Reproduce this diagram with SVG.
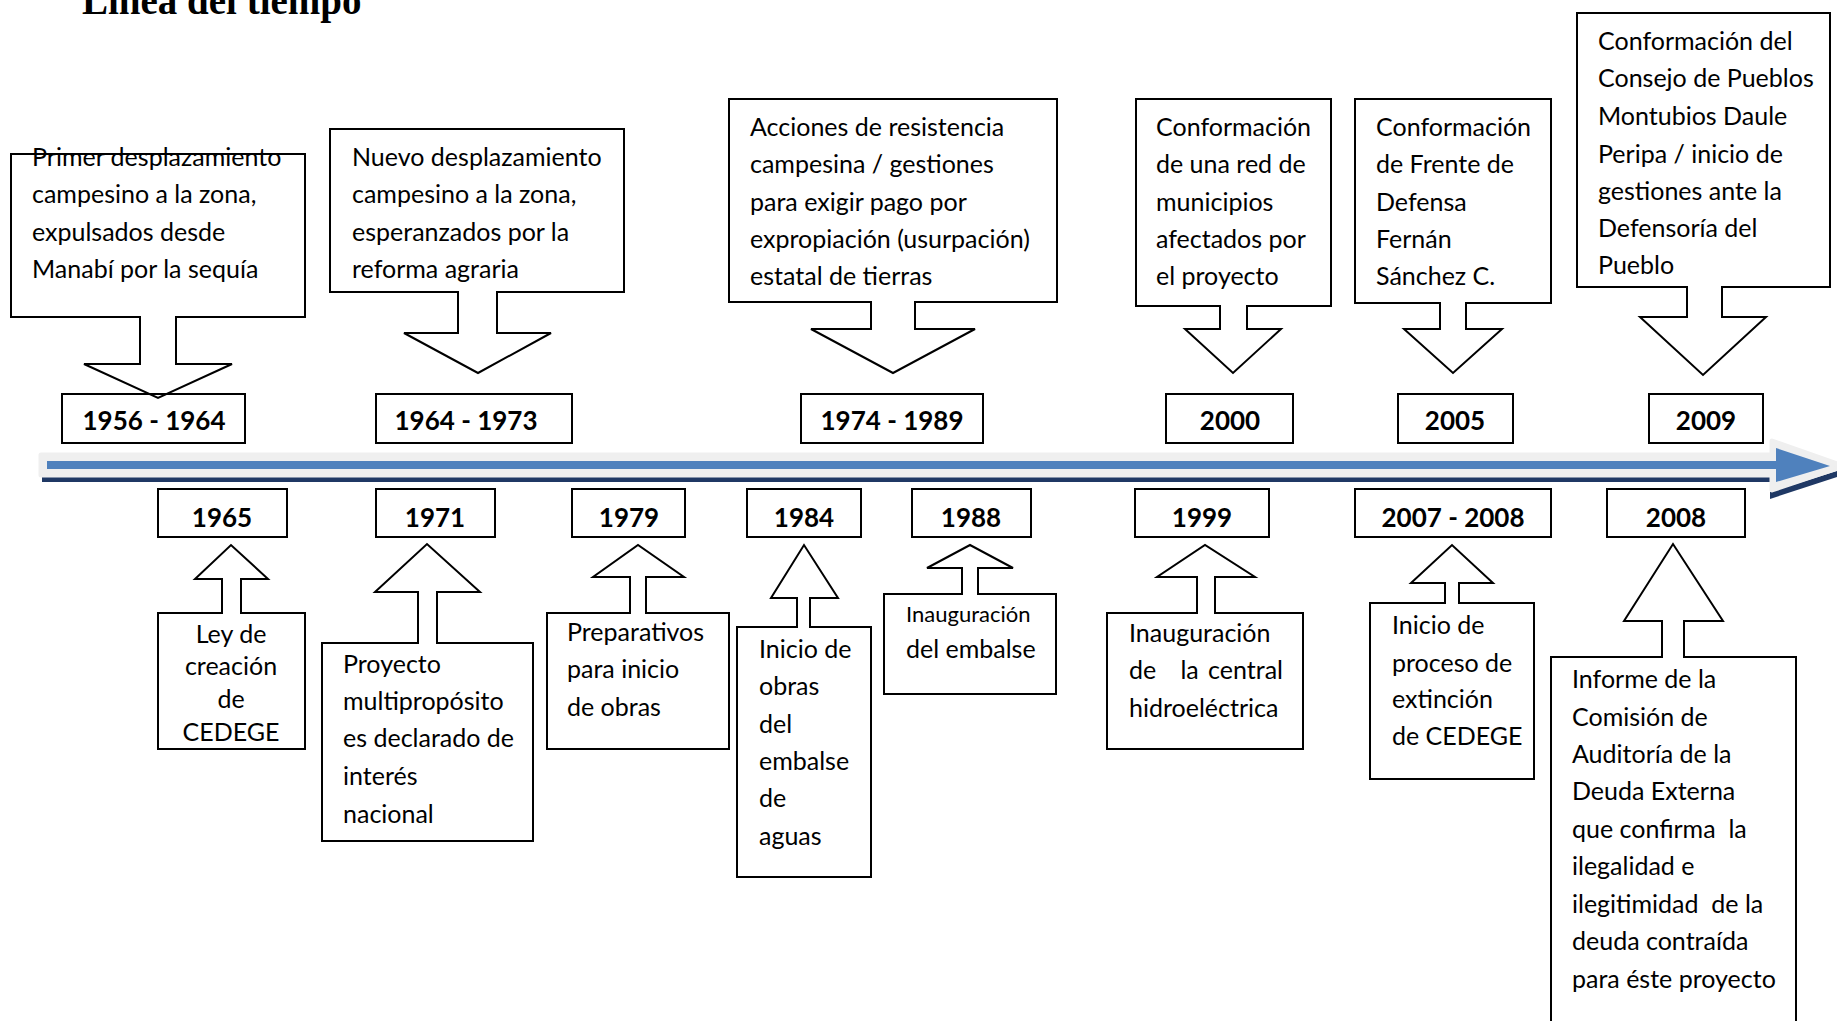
<svg xmlns="http://www.w3.org/2000/svg" width="1837" height="1021" viewBox="0 0 1837 1021">
<style>
.co{fill:#fff;stroke:#000;stroke-width:2;stroke-linejoin:miter}
.yb{fill:none;stroke:#000;stroke-width:2}
.t{font-family:Lato,"Liberation Sans",sans-serif;font-size:25px;fill:#000}
.s{font-size:22px}
.y{font-family:Lato,"Liberation Sans",sans-serif;font-size:26px;font-weight:bold;text-anchor:middle;fill:#000}
.c{text-anchor:middle}
.pre{white-space:pre}
</style>
<rect width="1837" height="1021" fill="#fff"/>
<text x="82" y="14" font-family="'Liberation Serif',serif" font-weight="bold" font-size="39">Línea del tiempo</text>

<g id="timeline">
<rect x="42" y="477" width="1734" height="5" fill="#1F3864"/>
<polygon points="1770,492 1837,471 1837,477 1770,499" fill="#1F3864"/>
<path d="M41,455 H1772 V441 L1843,466 L1772,490 V475 H41 Z" fill="#EFEFEF" stroke="#EFEFEF" stroke-width="5" stroke-linejoin="round"/>
<path d="M47,461 H1776 V448 L1830,466 L1776,482 V469 H47 Z" fill="#4F81BD"/>
</g>

<g id="connectors"></g>

<g id="n1956">
<path class="co" d="M11,154 H305 V317 H176 V364 H232 L158,398 L84,364 H140 V317 H11 Z"/>
<text class="t" x="32" y="166">Primer desplazamiento</text>
<text class="t" x="32" y="203">campesino a la zona,</text>
<text class="t" x="32" y="241">expulsados desde</text>
<text class="t" x="32" y="278">Manabí por la sequía</text>
<rect class="yb" x="62" y="394" width="183" height="49"/>
<text class="y" x="154" y="430">1956 - 1964</text>
</g>

<g id="n1964">
<path class="co" d="M330,129 H624 V292 H497 V333 H551 L478,373 L404,333 H458 V292 H330 Z"/>
<text class="t" x="352" y="166">Nuevo desplazamiento</text>
<text class="t" x="352" y="203">campesino a la zona,</text>
<text class="t" x="352" y="241">esperanzados por la</text>
<text class="t" x="352" y="278">reforma agraria</text>
<rect class="yb" x="376" y="394" width="196" height="49"/>
<text class="y" x="466" y="430">1964 - 1973</text>
</g>

<g id="n1974">
<path class="co" d="M729,99 H1057 V302 H915 V329 H975 L893,373 L811,329 H871 V302 H729 Z"/>
<text class="t" x="750" y="136">Acciones de resistencia</text>
<text class="t" x="750" y="173">campesina / gestiones</text>
<text class="t" x="750" y="211">para exigir pago por</text>
<text class="t" x="750" y="248">expropiación (usurpación)</text>
<text class="t" x="750" y="285">estatal de tierras</text>
<rect class="yb" x="801" y="394" width="182" height="49"/>
<text class="y" x="892" y="430">1974 - 1989</text>
</g>

<g id="n2000">
<path class="co" d="M1136,99 H1331 V306 H1247 V329 H1281 L1233,373 L1185,329 H1220 V306 H1136 Z"/>
<text class="t" x="1156" y="136">Conformación</text>
<text class="t" x="1156" y="173">de una red de</text>
<text class="t" x="1156" y="211">municipios</text>
<text class="t" x="1156" y="248">afectados por</text>
<text class="t" x="1156" y="285">el proyecto</text>
<rect class="yb" x="1166" y="394" width="127" height="49"/>
<text class="y" x="1230" y="430">2000</text>
</g>

<g id="n2005">
<path class="co" d="M1355,99 H1551 V303 H1466 V329 H1502 L1453,373 L1404,329 H1440 V303 H1355 Z"/>
<text class="t" x="1376" y="136">Conformación</text>
<text class="t" x="1376" y="173">de Frente de</text>
<text class="t" x="1376" y="211">Defensa</text>
<text class="t" x="1376" y="248">Fernán</text>
<text class="t" x="1376" y="285">Sánchez C.</text>
<rect class="yb" x="1398" y="394" width="115" height="49"/>
<text class="y" x="1455" y="430">2005</text>
</g>

<g id="n2009">
<path class="co" d="M1577,13 H1830 V287 H1722 V317 H1766 L1703,375 L1640,317 H1687 V287 H1577 Z"/>
<text class="t" x="1598" y="50">Conformación del</text>
<text class="t" x="1598" y="87">Consejo de Pueblos</text>
<text class="t" x="1598" y="125">Montubios Daule</text>
<text class="t" x="1598" y="163">Peripa / inicio de</text>
<text class="t" x="1598" y="200">gestiones ante la</text>
<text class="t" x="1598" y="237">Defensoría del</text>
<text class="t" x="1598" y="274">Pueblo</text>
<rect class="yb" x="1649" y="394" width="114" height="49"/>
<text class="y" x="1706" y="430">2009</text>
</g>

<g id="n1965">
<path class="co" d="M158,613 H222 V579 H195 L231,545 L268,579 H241 V613 H305 V749 H158 Z"/>
<text class="t c" x="231" y="643">Ley de</text>
<text class="t c" x="231" y="675">creación</text>
<text class="t c" x="231" y="708">de</text>
<text class="t c" x="231" y="741">CEDEGE</text>
<rect class="yb" x="158" y="489" width="129" height="48"/>
<text class="y" x="222" y="527">1965</text>
</g>

<g id="n1971">
<path class="co" d="M322,643 H418 V592 H375 L427,544 L480,592 H437 V643 H533 V841 H322 Z"/>
<text class="t" x="343" y="673">Proyecto</text>
<text class="t" x="343" y="710">multipropósito</text>
<text class="t" x="343" y="747">es declarado de</text>
<text class="t" x="343" y="785">interés</text>
<text class="t" x="343" y="823">nacional</text>
<rect class="yb" x="376" y="489" width="119" height="48"/>
<text class="y" x="435" y="527">1971</text>
</g>

<g id="n1979">
<path class="co" d="M547,613 H630 V577 H593 L638,545 L684,577 H646 V613 H729 V749 H547 Z"/>
<text class="t" x="567" y="641">Preparativos</text>
<text class="t" x="567" y="678">para inicio</text>
<text class="t" x="567" y="716">de obras</text>
<rect class="yb" x="572" y="489" width="113" height="48"/>
<text class="y" x="629" y="527">1979</text>
</g>

<g id="n1984">
<path class="co" d="M737,627 H797 V598 H771 L804,545 L838,598 H810 V627 H871 V877 H737 Z"/>
<text class="t" x="759" y="658">Inicio de</text>
<text class="t" x="759" y="695">obras</text>
<text class="t" x="759" y="733">del</text>
<text class="t" x="759" y="770">embalse</text>
<text class="t" x="759" y="807">de</text>
<text class="t" x="759" y="845">aguas</text>
<rect class="yb" x="747" y="489" width="114" height="48"/>
<text class="y" x="804" y="527">1984</text>
</g>

<g id="n1988">
<path class="co" d="M884,594 H962 V568 H927 L970,545 L1013,568 H978 V594 H1056 V694 H884 Z"/>
<text class="t s" x="906" y="622">Inauguración</text>
<text class="t" x="906" y="658">del embalse</text>
<rect class="yb" x="912" y="489" width="119" height="48"/>
<text class="y" x="971" y="527">1988</text>
</g>

<g id="n1999">
<path class="co" d="M1107,613 H1197 V577 H1157 L1205,545 L1255,577 H1215 V613 H1303 V749 H1107 Z"/>
<text class="t" x="1129" y="642">Inauguración</text>
<text class="t" x="1129" y="679">de<tspan x="1174"> la</tspan><tspan x="1283" text-anchor="end"> central</tspan></text>
<text class="t" x="1129" y="717">hidroeléctrica</text>
<rect class="yb" x="1135" y="489" width="134" height="48"/>
<text class="y" x="1202" y="527">1999</text>
</g>

<g id="n2007">
<path class="co" d="M1370,603 H1445 V583 H1411 L1452,545 L1493,583 H1459 V603 H1534 V779 H1370 Z"/>
<text class="t" x="1392" y="634">Inicio de</text>
<text class="t" x="1392" y="672">proceso de</text>
<text class="t" x="1392" y="708">extinción</text>
<text class="t" x="1392" y="745">de CEDEGE</text>
<rect class="yb" x="1355" y="489" width="196" height="48"/>
<text class="y" x="1453" y="527">2007 - 2008</text>
</g>

<g id="n2008">
<path class="co" d="M1551,657 H1662 V621 H1624 L1673,544 L1723,621 H1684 V657 H1796 V1030 H1551 Z"/>
<text class="t" x="1572" y="688">Informe de la</text>
<text class="t" x="1572" y="726">Comisión de</text>
<text class="t" x="1572" y="763">Auditoría de la</text>
<text class="t" x="1572" y="800">Deuda Externa</text>
<text class="t pre" x="1572" y="838">que confirma  la</text>
<text class="t" x="1572" y="875">ilegalidad e</text>
<text class="t pre" x="1572" y="913">ilegitimidad  de la</text>
<text class="t" x="1572" y="950">deuda contraída</text>
<text class="t" x="1572" y="988">para éste proyecto</text>
<rect class="yb" x="1607" y="489" width="138" height="48"/>
<text class="y" x="1676" y="527">2008</text>
</g>
</svg>
